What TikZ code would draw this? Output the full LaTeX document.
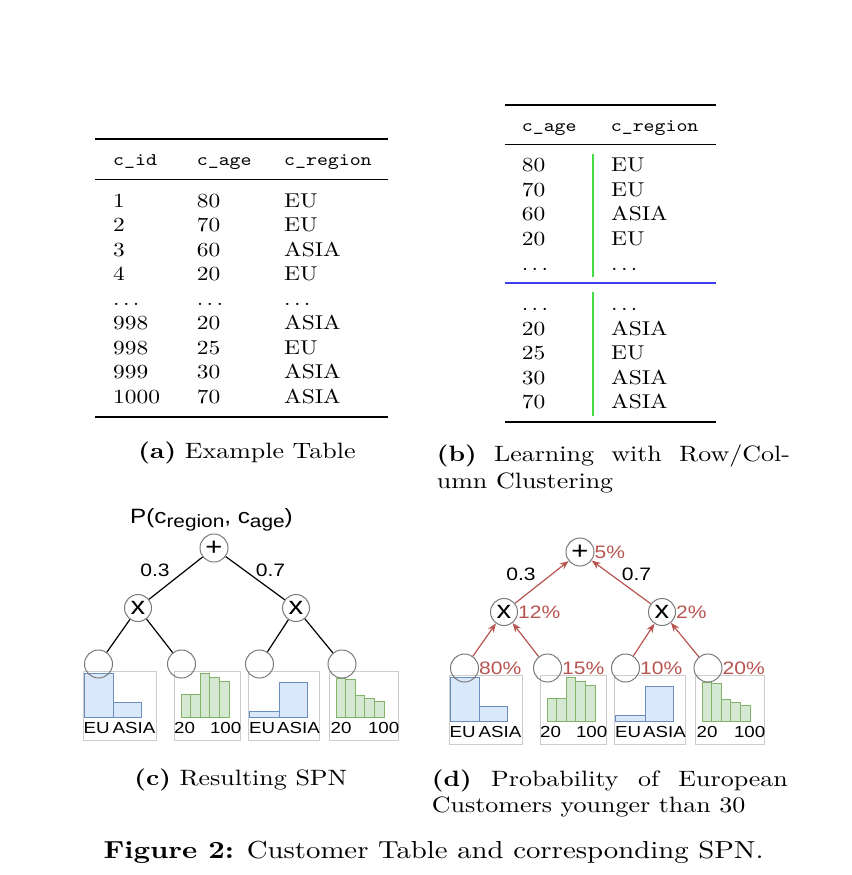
\documentclass[tikz,border=0pt]{standalone}
\usepackage{fontspec}
\setmainfont{lmroman10}[Extension=.otf,UprightFont=*-regular,BoldFont=*-bold,ItalicFont=*-italic,BoldItalicFont=*-bolditalic,FakeStretch=1.17]
\setmonofont{lmmono10}[Extension=.otf,UprightFont=*-regular,FakeStretch=1.17]
\setsansfont{Liberation Sans}[FakeStretch=1.17]
\usetikzlibrary{arrows.meta}
\definecolor{spnred}{HTML}{B85450}
\definecolor{histblue}{HTML}{DAE8FC}
\definecolor{histbluedraw}{HTML}{6C8EBF}
\definecolor{histgreen}{HTML}{D5E8D4}
\definecolor{histgreendraw}{HTML}{82B366}
\definecolor{framegray}{HTML}{CCCCCC}
\definecolor{nodegray}{HTML}{7A7A7A}
\definecolor{rowgreen}{HTML}{44DD44}
\definecolor{rowblue}{HTML}{3C3CF0}

\begin{document}
\begin{tikzpicture}[x=1pt,y=-1pt,
		cell/.style={anchor=base west,inner sep=0pt,font=\fontsize{20}{24.4}\selectfont},
		head/.style={cell,font=\fontsize{17.8}{24.4}\selectfont\ttfamily},
		capt/.style={inner sep=0pt,font=\fontsize{22.2}{26.6}\selectfont},
		spn/.style={circle,draw=nodegray,line width=1pt,minimum size=27pt,inner sep=0pt,font=\sffamily\fontsize{25}{25}\selectfont},
		lbl/.style={inner sep=0pt,font=\sffamily\fontsize{18}{18}\selectfont},
		tick/.style={inner sep=0pt,font=\sffamily\fontsize{16}{16}\selectfont},
		pct/.style={lbl,text=spnred,anchor=west},
		hbar/.style={fill=histblue,draw=histbluedraw,line width=1pt},
		gbar/.style={fill=histgreen,draw=histgreendraw,line width=1pt},
		edge/.style={line width=1.2pt},
		up/.style={draw=spnred,line width=1.2pt,-{Stealth[length=9pt,width=7pt]}}]
			\useasboundingbox (0,0) rectangle (851,875);

			% (a) example table
			\draw[line width=2pt] (95,138.5) -- (388,138.5);
			\draw[line width=1pt] (95,179) -- (388,179);
			\draw[line width=2pt] (95,416.5) -- (388,416.5);
			\node[head] (aidh) at (113,165.7) {c\_id};
			\node[head] (aageh) at (196.7,165.7) {c\_age};
			\node[head] (aregh) at (284,165.7) {c\_region};
			\foreach \id/\age/\reg [count=\i from 0] in {1/80/EU, 2/70/EU, 3/60/ASIA, 4/20/EU, {.\,.\,.}/{.\,.\,.}/{.\,.\,.}, 998/20/ASIA, 998/25/EU, 999/30/ASIA, 1000/70/ASIA}
			{
				\node[cell] (aid\i) at (113,207.3+24.5*\i) {\id};
				\node[cell] (aage\i) at (196.7,207.3+24.5*\i) {\age};
				\node[cell] (areg\i) at (284,207.3+24.5*\i) {\reg};
			}
			\node[capt,anchor=base] (capa) at (247,458) {\textbf{(a)} Example Table};

			% (b) row/column clustering
			\draw[line width=2pt] (505,105) -- (716,105);
			\draw[line width=1pt] (505,144.3) -- (716,144.3);
			\draw[rowblue,line width=1.6pt] (505,282.7) -- (716,282.7);
			\draw[line width=2pt] (505,422.3) -- (716,422.3);
			\draw[rowgreen,line width=1.8pt] (593.3,154) -- (593.3,277.3);
			\draw[rowgreen,line width=1.8pt] (593.3,292.3) -- (593.3,416);
			\node[head] (bageh) at (521.7,131.7) {c\_age};
			\node[head] (bregh) at (610.7,131.7) {c\_region};
			\foreach \age/\reg [count=\i from 0] in {80/EU, 70/EU, 60/ASIA, 20/EU, {.\,.\,.}/{.\,.\,.}}
			{
				\node[cell] (bage\i) at (521.7,171.7+24.6*\i) {\age};
				\node[cell] (breg\i) at (611,171.7+24.6*\i) {\reg};
			}
			\foreach \age/\reg [count=\i from 0] in {{.\,.\,.}/{.\,.\,.}, 20/ASIA, 25/EU, 30/ASIA, 70/ASIA}
			{
				\node[cell] (cage\i) at (521.7,310.5+24.5*\i) {\age};
				\node[cell] (creg\i) at (611,310.5+24.5*\i) {\reg};
			}
			\node[capt,anchor=base west,align=left] (capb) at (436.7,488.3) {\makebox[353pt][s]{\textbf{(b)} Learning with Row/Col-}\\umn Clustering};

			% (c) and (d) spn
			\foreach \p/\dx/\dy in {c/0/0, d/366/4}
			{
				\begin{scope}[shift={(\dx,\dy)}]
					\draw[framegray,line width=1pt] (83.5,671.5) rectangle (156,740);
					\draw[framegray,line width=1pt] (174,671.5) rectangle (240.5,740);
					\draw[framegray,line width=1pt] (248,671.5) rectangle (319.5,740);
					\draw[framegray,line width=1pt] (329.5,671.5) rectangle (398,740);
					\filldraw[hbar] (84.5,673) rectangle (113.5,717);
					\filldraw[hbar] (113.5,702) rectangle (141.5,717);
					\filldraw[hbar] (249.5,711) rectangle (279,717);
					\filldraw[hbar] (279,682.5) rectangle (307,717);
					\foreach \h [count=\k from 0] in {694, 694, 673, 677, 681.5}
						\filldraw[gbar] (181+9.6*\k,\h) rectangle + (9.6,717-\h);
					\foreach \h [count=\k from 0] in {678, 679.5, 695.5, 698.5, 701}
						\filldraw[gbar] (336+9.6*\k,\h) rectangle + (9.6,717-\h);
					\node[tick,anchor=base west] (eua\p) at (83.5,733) {EU};
					\node[tick,anchor=base east] (asiaa\p) at (155.5,733) {ASIA};
					\node[tick,anchor=base west] (lowa\p) at (174,733) {20};
					\node[tick,anchor=base east] (higha\p) at (241.5,733) {100};
					\node[tick,anchor=base west] (eub\p) at (249,733) {EU};
					\node[tick,anchor=base east] (asiab\p) at (320,733) {ASIA};
					\node[tick,anchor=base west] (lowb\p) at (330.5,733) {20};
					\node[tick,anchor=base east] (highb\p) at (399.5,733) {100};
					\node[spn,minimum size=28pt] (sum\p) at (214,548) {+};
					\node[spn] (pl\p) at (138,608) {x};
					\node[spn] (pr\p) at (296,608) {x};
					\node[spn,minimum size=28pt] (la\p) at (98.5,664) {};
					\node[spn,minimum size=28pt] (lb\p) at (181.5,664) {};
					\node[spn,minimum size=28pt] (lc\p) at (259.5,664) {};
					\node[spn,minimum size=28pt] (ld\p) at (342,664) {};
					\node[lbl] (wl\p) at (155,570) {0.3};
					\node[lbl] (wr\p) at (270.5,570) {0.7};
				\end{scope}
			}
			\node[lbl,font=\sffamily\fontsize{20.7}{20.7}\selectfont] (joint) at (211.5,520) {P(c\raisebox{-4.5pt}{\fontsize{17.8}{17.8}\selectfont region}, c\raisebox{-4.5pt}{\fontsize{17.8}{17.8}\selectfont age})};
			\draw[edge] (sumc) -- (plc);
			\draw[edge] (sumc) -- (prc);
			\draw[edge] (plc) -- (lac);
			\draw[edge] (plc) -- (lbc);
			\draw[edge] (prc) -- (lcc);
			\draw[edge] (prc) -- (ldc);
			\draw[up] (pld) -- (sumd);
			\draw[up] (prd) -- (sumd);
			\draw[up] (lad) -- (pld);
			\draw[up] (lbd) -- (pld);
			\draw[up] (lcd) -- (prd);
			\draw[up] (ldd) -- (prd);
			\node[pct] (psum) at (sumd.east) {5\%};
			\node[pct] (ppl) at (pld.east) {12\%};
			\node[pct] (ppr) at (prd.east) {2\%};
			\node[pct] (pla) at (lad.east) {80\%};
			\node[pct] (plb) at (lbd.east) {15\%};
			\node[pct] (plc) at (lcd.east) {10\%};
			\node[pct] (pld) at (ldd.east) {20\%};
			\node[capt,anchor=base] (capc) at (240.8,785) {\textbf{(c)} Resulting SPN};
			\node[capt,anchor=base west,align=left] (capd) at (431.7,812.7) {\makebox[356pt][s]{\textbf{(d)} Probability of European}\\Customers younger than 30};
			\node[capt,anchor=base west,font=\fontsize{24.6}{29}\selectfont] (capfig) at (103.3,858) {\textbf{Figure 2:} Customer Table and corresponding SPN.};
		\end{tikzpicture}
\end{document}
